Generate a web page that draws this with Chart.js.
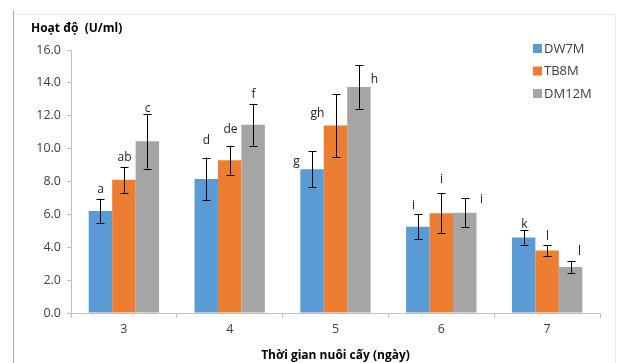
<!DOCTYPE html>
<html>
<head>
<meta charset="utf-8">
<script src="https://cdn.jsdelivr.net/npm/chart.js@4"></script>
<style>
  body { margin: 0; background: #fff; }
  #wrap { width: 617px; height: 363px; }
</style>
</head>
<body>
<div id="wrap"><canvas id="chart" width="617" height="363"></canvas></div>
<script>
// 📦 Data
const days = ['3', '4', '5', '6', '7'];
const seriesNames = ['DW7M', 'TB8M', 'DM12M'];
const dw7m = [6.2, 8.15, 8.75, 5.25, 4.6];
const tb8m = [8.1, 9.3, 11.4, 6.07, 3.8];
const dm12m = [10.45, 11.45, 13.75, 6.1, 2.8];
const dw7mErr = [0.75, 1.3, 1.1, 0.76, 0.44];
const tb8mErr = [0.8, 0.88, 1.93, 1.22, 0.33];
const dm12mErr = [1.66, 1.27, 1.32, 0.87, 0.38];
const dw7mLetters = ['a', 'd', 'g', 'i', 'k'];
const tb8mLetters = ['ab', 'de', 'gh', 'i', 'l'];
const dm12mLetters = ['c', 'f', 'h', 'i', 'l'];
const yTicks = [0, 2, 4, 6, 8, 10, 12, 14, 16];

// 🎨 Styling
const colors = ['#5B9BD5', '#ED7D31', '#A5A5A5'];
const errors = [dw7mErr, tb8mErr, dm12mErr];
const letters = [dw7mLetters, tb8mLetters, dm12mLetters];
const FONT = "'Open Sans', 'Noto Sans', sans-serif";
// small pixel nudges for the letters, like the hand-placed labels in the original
const nudges = [
  [[0, 0], [0, -8], [-16, 19], [-5, 0], [0, 3]],
  [[0, 0], [0, -7], [-19, 29], [0, -5], [0, 0]],
  [[0, 4], [0, 0], [15, 23], [16, 10], [8, 0]]
];

// 📊 Error bars, letters, legend, frame
const extras = {
  id: 'extras',
  afterDatasetsDraw(chart) {
    const ctx = chart.ctx;
    const y = chart.scales.y;
    ctx.save();
    chart.data.datasets.forEach((ds, i) => {
      const meta = chart.getDatasetMeta(i);
      meta.data.forEach((bar, j) => {
        const v = ds.data[j];
        const e = errors[i][j];
        const top = y.getPixelForValue(v + e);
        const bot = y.getPixelForValue(v - e);
        const x = Math.round(bar.x) + 0.5;
        ctx.strokeStyle = '#000';
        ctx.lineWidth = 1;
        ctx.beginPath();
        ctx.moveTo(x, top); ctx.lineTo(x, bot);
        ctx.moveTo(x - 4, Math.round(top) + 0.5); ctx.lineTo(x + 4, Math.round(top) + 0.5);
        ctx.moveTo(x - 4, Math.round(bot) + 0.5); ctx.lineTo(x + 4, Math.round(bot) + 0.5);
        ctx.stroke();
        const [dx, dy] = nudges[i][j];
        ctx.fillStyle = '#222';
        ctx.font = '12px ' + FONT;
        ctx.textAlign = 'center';
        ctx.textBaseline = 'bottom';
        ctx.fillText(letters[i][j], x + dx, top - 3 + dy);
      });
    });
    ctx.restore();
  },
  afterDraw(chart) {
    const ctx = chart.ctx;
    ctx.save();
    // frame
    ctx.strokeStyle = '#ececec';
    ctx.beginPath();
    ctx.moveTo(13, 14.5); ctx.lineTo(615, 14.5);
    ctx.moveTo(615.5, 14); ctx.lineTo(615.5, 363);
    ctx.stroke();
    ctx.strokeStyle = '#a6a6a6';
    ctx.beginPath();
    ctx.moveTo(13.5, 10); ctx.lineTo(13.5, 363);
    ctx.stroke();
    // y title
    ctx.fillStyle = '#000';
    ctx.font = 'bold 12px ' + FONT;
    ctx.textAlign = 'left';
    ctx.textBaseline = 'middle';
    ctx.fillText('Hoạt độ  (U/ml)', 31, 29);
    // legend
    ctx.font = '13px ' + FONT;
    seriesNames.forEach((name, i) => {
      const cy = 48 + i * 22.5;
      ctx.fillStyle = colors[i];
      ctx.fillRect(533, cy - 4, 9, 9);
      ctx.fillStyle = '#404040';
      ctx.fillText(name, 544, cy + 1);
    });
    ctx.restore();
  }
};

new Chart(document.getElementById('chart').getContext('2d'), {
  type: 'bar',
  data: {
    labels: days,
    datasets: [
      { label: seriesNames[0], data: dw7m, backgroundColor: colors[0] },
      { label: seriesNames[1], data: tb8m, backgroundColor: colors[1] },
      { label: seriesNames[2], data: dm12m, backgroundColor: colors[2] }
    ]
  },
  options: {
    responsive: false,
    animation: false,
    layout: { padding: { left: 0, right: 17, top: 50, bottom: 0 } },
    datasets: { bar: { categoryPercentage: 0.665, barPercentage: 1 } },
    plugins: { legend: { display: false }, tooltip: { enabled: false } },
    scales: {
      x: {
        grid: { display: true, drawOnChartArea: false, drawTicks: true, tickLength: 5, color: '#bfbfbf', offset: true },
        border: { color: '#bfbfbf' },
        ticks: { color: '#404040', font: { family: FONT, size: 12.5 }, padding: 4 },
        title: { display: true, text: 'Thời gian nuôi cấy (ngày)', color: '#000', font: { family: FONT, size: 12, weight: 'bold' }, padding: { top: 1, bottom: 0 } },
        afterFit(scale) { scale.height = 50; }
      },
      y: {
        min: 0,
        max: 16,
        afterBuildTicks(scale) { scale.ticks = yTicks.map(v => ({ value: v })); },
        grid: { display: true, drawOnChartArea: false, drawTicks: true, tickLength: 4, color: '#bfbfbf' },
        border: { color: '#bfbfbf' },
        ticks: { color: '#404040', font: { family: FONT, size: 12.5 }, padding: 6, callback: v => v.toFixed(1) },
        afterFit(scale) { scale.width = 71; }
      }
    }
  },
  plugins: [extras]
});
</script>
</body>
</html>
